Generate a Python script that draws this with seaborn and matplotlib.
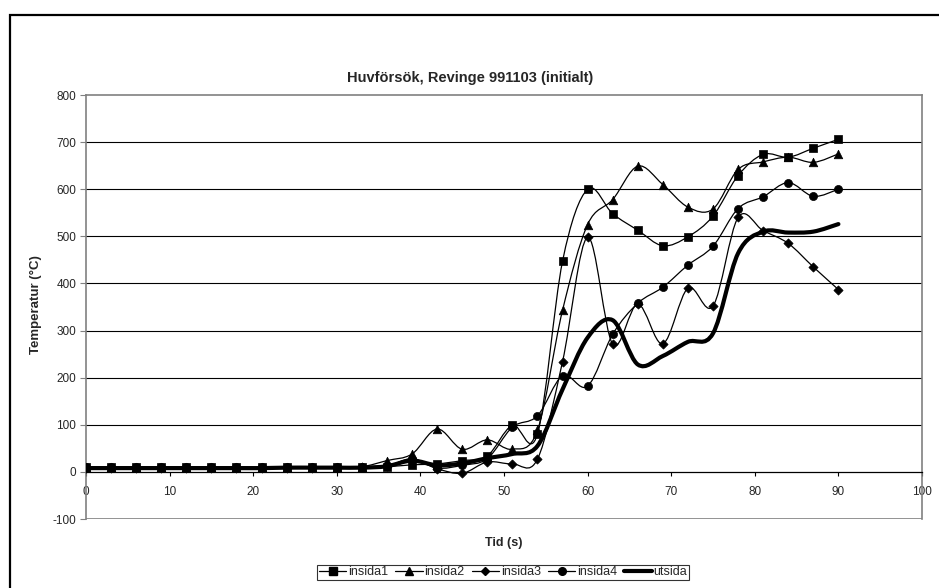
import numpy as np
import pandas as pd
import matplotlib
matplotlib.use("Agg")
import matplotlib.pyplot as plt
from matplotlib.path import Path
from matplotlib.patches import PathPatch, Rectangle
from matplotlib.lines import Line2D
import seaborn as sns

# Measurement times (s)
tid = [0, 3, 6, 9, 12, 15, 18, 21, 24, 27, 30, 33, 36, 39, 42, 45,
       48, 51, 54, 57, 60, 63, 66, 69, 72, 75, 78, 81, 84, 87, 90]

# Temperatures (°C)
insida1 = [10, 10, 10, 10, 10, 10, 10, 10, 10, 10, 10, 10, 11, 15, 17, 24,
           34, 99, 80, 447, 600, 548, 513, 480, 499, 543, 629, 674, 668, 687, 706]
insida2 = [10, 10, 10, 10, 10, 10, 10, 10, 10, 11, 11, 11, 24, 38, 91, 48,
           68, 48, 88, 343, 525, 578, 649, 610, 562, 558, 642, 658, 668, 657, 675]
insida3 = [9, 9, 9, 9, 9, 9, 9, 9, 9, 9, 9, 10, 12, 28, 7, -3,
           21, 17, 27, 234, 498, 271, 356, 272, 390, 352, 540, 512, 485, 435, 387]
insida4 = [10, 10, 10, 10, 10, 10, 10, 10, 10, 10, 10, 10, 12, 27, 8, 14,
           28, 95, 119, 204, 182, 292, 358, 392, 439, 479, 559, 584, 614, 585, 600]
utsida = [8, 8, 8, 8, 8, 8, 8, 8, 9, 9, 9, 9, 12, 24, 14, 18,
          29, 38, 55, 175, 285, 322, 228, 246, 276, 294, 464, 510, 508, 510, 526]

series_names = ["insida1", "insida2", "insida3", "insida4", "utsida"]
series_values = [insida1, insida2, insida3, insida4, utsida]
series_markers = ["s", "^", "D", "o", None]
marker_sizes = [34, 38, 22, 34, 0]
line_widths = [0.9, 0.9, 0.9, 0.9, 3.0]

title_text = "Huvförsök, Revinge 991103 (initialt)"
x_label = "Tid (s)"
y_label = "Temperatur (°C)"
x_ticks = list(range(0, 101, 10))
y_ticks = list(range(-100, 801, 100))

sns.set_theme(style="white")
plt.rcParams["font.family"] = ["Liberation Sans", "DejaVu Sans"]

df = pd.DataFrame({"Tid": tid})
for name, vals in zip(series_names, series_values):
    df[name] = vals


def smooth_path(x, y):
    """Cubic Bezier path through the points (Catmull-Rom style tangents)."""
    x = np.asarray(x, float)
    y = np.asarray(y, float)
    n = len(x)
    verts = [(x[0], y[0])]
    codes = [Path.MOVETO]
    for i in range(n - 1):
        i0 = max(i - 1, 0)
        i3 = min(i + 2, n - 1)
        c1 = (x[i] + (x[i + 1] - x[i0]) / 6, y[i] + (y[i + 1] - y[i0]) / 6)
        c2 = (x[i + 1] - (x[i3] - x[i]) / 6, y[i + 1] - (y[i3] - y[i]) / 6)
        verts += [c1, c2, (x[i + 1], y[i + 1])]
        codes += [Path.CURVE4] * 3
    return Path(verts, codes)


fig = plt.figure(figsize=(9.39, 5.88), dpi=100)
fig.patch.set_facecolor("white")
ax = fig.add_axes([86 / 939, 1 - 519 / 588, (922 - 86) / 939, (519 - 95) / 588])
ax.set_facecolor("white")

ax.set_xlim(0, 100)
ax.set_ylim(-100, 800)

# horizontal gridlines
for v in y_ticks[2:-1]:
    ax.axhline(v, color="black", lw=0.8, zorder=1)
ax.axhline(-100, color="#808080", lw=1.2, zorder=1)

for name, marker, ms, lw in zip(series_names, series_markers, marker_sizes, line_widths):
    patch = PathPatch(smooth_path(df["Tid"], df[name]), fill=False,
                      edgecolor="black", lw=lw, zorder=3, capstyle="round",
                      joinstyle="round")
    ax.add_patch(patch)
    if marker is not None:
        sns.scatterplot(data=df, x="Tid", y=name, marker=marker, s=ms,
                        color="black", edgecolor="black", linewidth=0.5,
                        ax=ax, zorder=4, legend=False)

# axes styling
ax.spines["bottom"].set_position(("data", 0))
ax.spines["bottom"].set_color("black")
ax.spines["bottom"].set_linewidth(0.9)
for s in ["top", "right", "left"]:
    ax.spines[s].set_color("#808080")
    ax.spines[s].set_linewidth(1.2)

ax.set_xticks(x_ticks)
ax.set_yticks(y_ticks)
ax.set_xticklabels([str(v) for v in x_ticks])
ax.set_yticklabels([str(v) for v in y_ticks])
ax.tick_params(axis="x", direction="out", length=3, width=0.8, color="black",
               pad=7, labelsize=8.5, bottom=True)
ax.tick_params(axis="y", direction="out", length=4, width=0.8, color="#808080",
               pad=3, labelsize=8.5, left=True)
ax.set_xlabel("")
ax.set_ylabel("")

fig.text(470 / 939, 1 - 78 / 588, title_text, ha="center", va="center",
         fontsize=10.5, fontweight="bold")
fig.text(504 / 939, 1 - 543 / 588, x_label, ha="center", va="center",
         fontsize=9, fontweight="bold")
fig.text(36 / 939, 1 - 305 / 588, y_label, ha="center", va="center",
         rotation=90, fontsize=9.5, fontweight="bold")

handles = []
for name, marker, lw in zip(series_names, series_markers, line_widths):
    msz = {"s": 5.5, "^": 6, "D": 4.5, "o": 5.5}.get(marker, 0)
    handles.append(Line2D([0], [0], color="black", lw=lw, marker=marker,
                          markersize=msz, markerfacecolor="black",
                          markeredgecolor="black"))
leg = fig.legend(handles, series_names, loc="center",
                 bbox_to_anchor=(503 / 939, 1 - 572 / 588), ncol=5,
                 fontsize=9, frameon=True, fancybox=False, borderpad=0.12,
                 handlelength=2.2, handletextpad=0.15, columnspacing=0.55,
                 borderaxespad=0)
leg.get_frame().set_edgecolor("black")
leg.get_frame().set_linewidth(0.8)

# outer chart border
fig.add_artist(Rectangle((10 / 939, -0.2), 1.5, 1.2 - 15 / 588,
                         transform=fig.transFigure, fill=False,
                         edgecolor="black", lw=1.6, clip_on=False))

fig.savefig("out.png", dpi=100, facecolor="white")
